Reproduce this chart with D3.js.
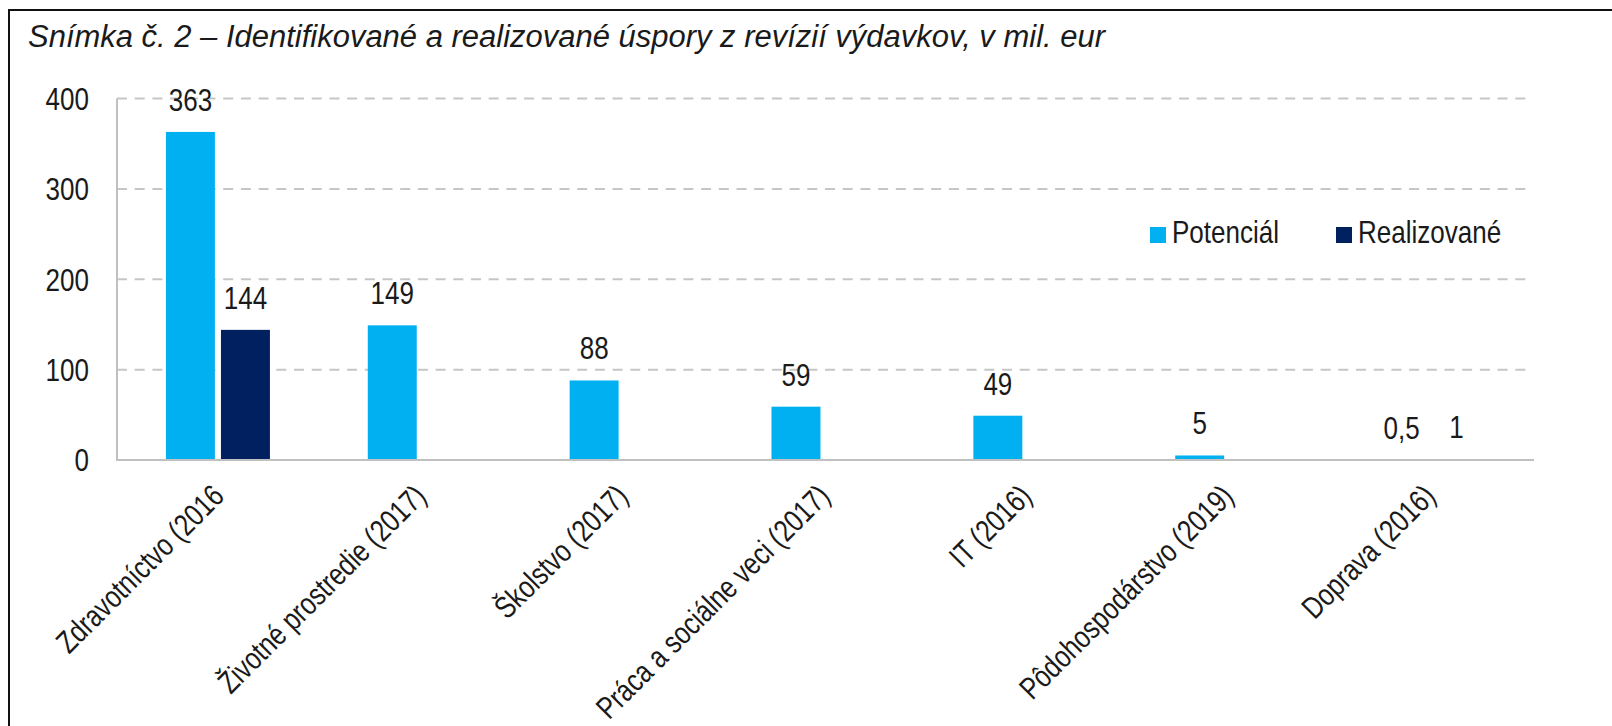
<!DOCTYPE html>
<html>
<head>
<meta charset="utf-8">
<script src="https://cdn.jsdelivr.net/npm/d3@7"></script>
<style>
  html, body { margin: 0; padding: 0; background: #fff; }
  svg { display: block; }
  text { font-family: "Liberation Sans", Arial, Helvetica, sans-serif; fill: #1a1a1a; }
</style>
</head>
<body>
<svg id="chart" width="1612" height="726"></svg>
<script>
// ---- data ----
const title = "Snímka č. 2 – Identifikované a realizované úspory z revízií výdavkov, v mil. eur";
const categories = [
  "Zdravotníctvo (2016",
  "Životné prostredie (2017)",
  "Školstvo (2017)",
  "Práca a sociálne veci (2017)",
  "IT (2016)",
  "Pôdohospodárstvo (2019)",
  "Doprava (2016)"
];
const seriesNames = ["Potenciál", "Realizované"];
const potencial = [363, 149, 88, 59, 49, 5, 0.5];
const realizovane = [144, null, null, null, null, null, 1];
const yTicks = [0, 100, 200, 300, 400];
const colors = ["#00b0f0", "#002060"];

(function () {
// ---- layout ----
const W = 1612, H = 726;
const pl = 117, pr = 1530, pt = 98.5, pb = 460;
const sx = 0.84;   // horizontal condensing of glyphs
const sxl = 0.805; // condensing for category labels
const fs = 31;

const svg = d3.select("#chart");
svg.append("rect").attr("width", W).attr("height", H).attr("fill", "#fff");

// frame
svg.append("path")
  .attr("d", `M9,${H} V10 H${W}`)
  .attr("fill", "none").attr("stroke", "#111").attr("stroke-width", 2);

// title
svg.append("text")
  .attr("x", 28).attr("y", 47)
  .attr("font-size", fs).attr("font-style", "italic")
  .attr("textLength", 1077).attr("lengthAdjust", "spacingAndGlyphs")
  .text(title);

const x = d3.scaleBand().domain(categories).range([pl, pr]).paddingInner(0).paddingOuter(0);
const inner = d3.scaleBand().domain(seriesNames).range([0, 104]).paddingInner(0.11);
const groupOffset = (x.bandwidth() - 104) / 2;
const y = d3.scaleLinear().domain([0, 400]).range([pb, pt]);

// gridlines
svg.append("g").selectAll("line").data(yTicks.filter(d => d > 0)).join("line")
  .attr("x1", pl).attr("x2", pr)
  .attr("y1", d => y(d)).attr("y2", d => y(d))
  .attr("stroke", "#c6c6c6").attr("stroke-width", 2)
  .attr("stroke-dasharray", "10,7.7");

// y tick labels via axis
const yAxis = d3.axisLeft(y).tickValues(yTicks).tickSize(0).tickPadding(0);
const yg = svg.append("g").attr("transform", `translate(${pl},0)`).call(yAxis);
yg.select(".domain").remove();
yg.selectAll(".tick text")
  .attr("x", null).attr("dy", null)
  .attr("font-size", fs)
  .attr("text-anchor", "end")
  .attr("dominant-baseline", "central")
  .attr("transform", `translate(-28,0) scale(${sx},1)`)
  .style("font-family", "'Liberation Sans', Arial, sans-serif")
  .attr("fill", "#1a1a1a");

// bars
const rows = categories.map((c, i) => ({ c, vals: [potencial[i], realizovane[i]] }));
const groups = svg.append("g").selectAll("g").data(rows).join("g")
  .attr("transform", d => `translate(${x(d.c) + groupOffset},0)`);

const cells = groups.selectAll("g").data(d => d.vals.map((v, k) => ({ v, k, s: seriesNames[k] })).filter(e => e.v != null))
  .join("g");
cells.append("rect")
  .attr("x", d => inner(d.s))
  .attr("width", inner.bandwidth())
  .attr("y", d => y(d.v))
  .attr("height", d => pb - y(d.v))
  .attr("fill", d => colors[d.k]);
cells.append("text")
  .attr("transform", d => `translate(${inner(d.s) + inner.bandwidth() / 2},${y(d.v) - 21}) scale(${sx},1)`)
  .attr("text-anchor", "middle")
  .attr("font-size", fs)
  .text(d => String(d.v).replace(".", ","));

// axes lines
svg.append("line").attr("x1", pl).attr("x2", pl).attr("y1", pt).attr("y2", pb)
  .attr("stroke", "#c0c0c0").attr("stroke-width", 2);
svg.append("line").attr("x1", pl - 1).attr("x2", pr + 4).attr("y1", pb).attr("y2", pb)
  .attr("stroke", "#c0c0c0").attr("stroke-width", 2);

// x labels
svg.append("g").selectAll("text").data(categories).join("text")
  .attr("transform", d => `translate(${x(d) + x.bandwidth() / 2 + 8},${pb + 38}) rotate(-45) scale(${sxl},1)`)
  .attr("text-anchor", "end")
  .attr("font-size", fs)
  .text(d => d);

// legend
const legendX = [1150, 1336];
const lg = svg.append("g").selectAll("g").data(seriesNames).join("g")
  .attr("transform", (d, i) => `translate(${legendX[i]},227)`);
lg.append("rect").attr("width", 16).attr("height", 16).attr("fill", (d, i) => colors[i]);
lg.append("text")
  .attr("transform", `translate(22,16) scale(${sx},1)`)
  .attr("font-size", fs)
  .text(d => d);
})();
</script>
</body>
</html>
